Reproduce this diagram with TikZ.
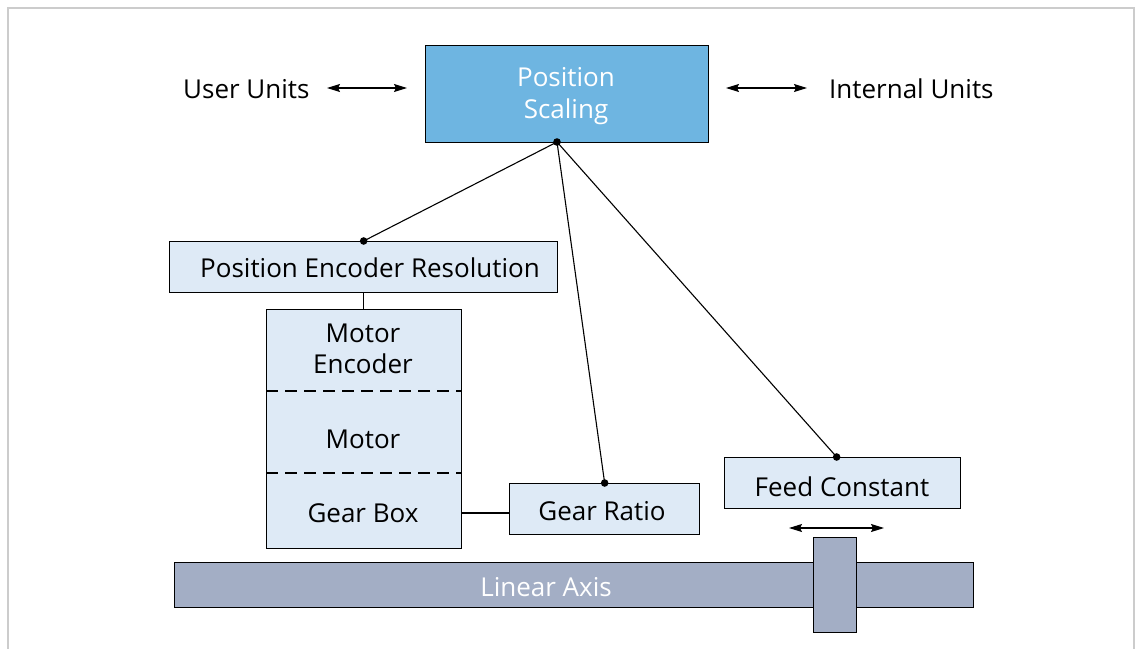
\documentclass[tikz,border=0pt]{standalone}
\usepackage{fontspec}
\setmainfont{Open Sans}
\usetikzlibrary{arrows.meta,calc}
\definecolor{psblue}{HTML}{6EB5E1}
\definecolor{lightbox}{HTML}{DEEAF6}
\definecolor{axisgray}{HTML}{A3AEC5}
\definecolor{framegray}{HTML}{CCCCCC}
\tikzset{
  box/.style={draw=black, line width=1.3pt, fill=lightbox, anchor=north west, inner sep=0pt},
  bluebox/.style={box, fill=psblue},
  graybox/.style={draw=black, line width=1.3pt, fill=axisgray, anchor=north west, inner sep=0pt},
  conn/.style={line width=1.1pt},
  dbl/.style={line width=1.1pt, {Stealth[length=13pt,width=8pt,inset=2pt]}-{Stealth[length=13pt,width=8pt,inset=2pt]}},
  lbl/.style={font=\fontsize{26}{31}\selectfont, inner sep=0pt, align=center},
  dot/.style={fill=black}
}
\begin{document}
\begin{tikzpicture}[x=1pt,y=-1pt]
\useasboundingbox (0,0) rectangle (1138,648);
\draw[framegray, line width=2pt] (8,660) -- (8,8) -- (1134,8) -- (1134,660);
% boxes
\node[bluebox, minimum width=283pt, minimum height=97pt] (ps) at (425,45) {};
\node[box, minimum width=388pt, minimum height=51pt] (per) at (169,241) {};
\node[box, minimum width=195pt, minimum height=239pt] (ms) at (266,309) {};
\node[box, minimum width=190pt, minimum height=51pt] (gr) at (509,483) {};
\node[box, minimum width=236pt, minimum height=51pt] (fc) at (724,457) {};
% box texts
\node[lbl, text=white, font=\fontsize{26}{32}\selectfont] (pst) at (566,96) {Position\\Scaling};
\node[lbl] (pert) at (370,268) {Position Encoder Resolution};
\node[lbl] (grt) at (602,511) {Gear Ratio};
\node[lbl] (fct) at (842,487) {Feed Constant};
% stack contents
\node[lbl] (menc) at (363,349) {Motor\\Encoder};
\node[lbl] (mot) at (363,439) {Motor};
\node[lbl] (gb) at (363,513) {Gear Box};
\draw[conn, dash pattern=on 12pt off 7pt] ($(ms.north west)+(0,82)$) -- ($(ms.north east)+(0,82)$);
\draw[conn, dash pattern=on 12pt off 7pt] ($(ms.north west)+(0,164)$) -- ($(ms.north east)+(0,164)$);
% axis
\node[graybox, minimum width=799pt, minimum height=45pt] (ax) at (174,562) {};
\node[lbl, text=white] (axl) at (546,587) {Linear Axis};
\node[graybox, minimum width=43pt, minimum height=95pt] (sl) at (813,537) {};
% labels
\node[lbl, anchor=west] (uu) at (183,89) {User Units};
\node[lbl, anchor=west] (iu) at (829,89) {Internal Units};
\coordinate (ua1) at (327,88);
\coordinate (ua2) at (407,88);
\coordinate (ia1) at (726,88);
\coordinate (ia2) at (807,88);
\coordinate (fa1) at (789,528);
\coordinate (fa2) at (884,528);
\draw[dbl] (ua1) -- (ua2);
\draw[dbl] (ia1) -- (ia2);
\draw[dbl] (fa1) -- (fa2);
% connectors
\coordinate (psd) at (557,142);
\coordinate (fcd) at ($(fc.north)+(-6,0)$);
\draw[conn] (psd) -- (per.north);
\draw[conn] (psd) -- (gr.north);
\draw[conn] (psd) -- (fcd);
\draw[conn] (per.south) -- (per.south |- ms.north);
\draw[conn] (ms.east |- gb) -- (gr.west |- gb);
\fill[dot] (psd) circle (3.8pt);
\fill[dot] (per.north) circle (3.8pt);
\fill[dot] (gr.north) circle (3.8pt);
\fill[dot] (fcd) circle (3.8pt);
\end{tikzpicture}
\end{document}
